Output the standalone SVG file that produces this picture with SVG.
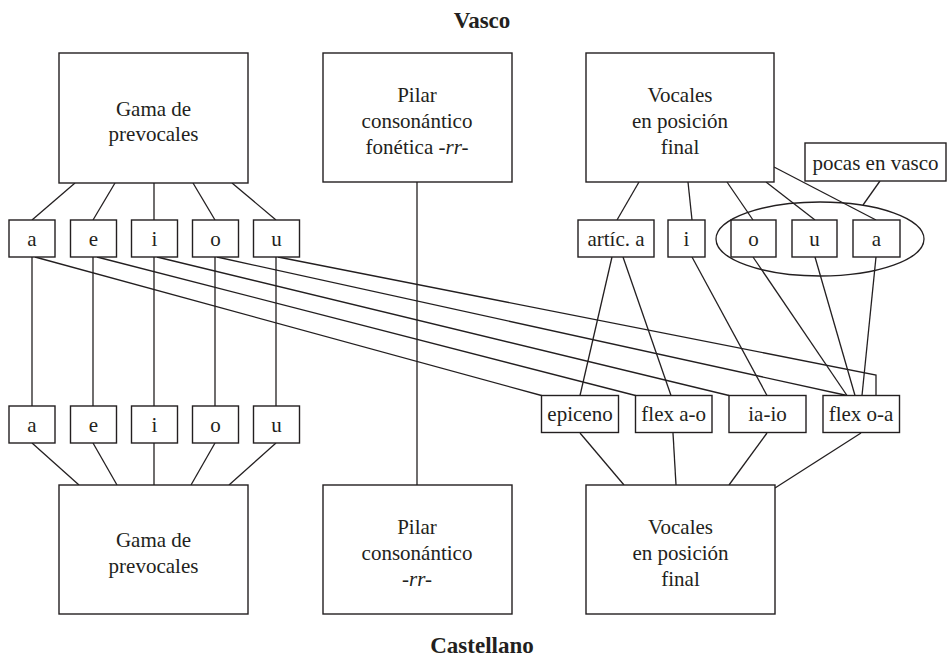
<svg xmlns="http://www.w3.org/2000/svg" width="949" height="659" viewBox="0 0 949 659">
<style>
.box{fill:#fff;stroke:#231f20;stroke-width:1.4}
.ln{fill:none;stroke:#231f20;stroke-width:1.3}
text{font-family:"Liberation Serif","Times New Roman",serif;font-size:21px;fill:#231f20;text-anchor:middle}
.hd{font-weight:bold;font-size:23px}
.it{font-style:italic}
</style>
<rect width="949" height="659" fill="#fff"/>
<g id="connectors" class="ln">
<line x1="75" y1="183" x2="32" y2="220"/>
<line x1="115" y1="183" x2="93" y2="220"/>
<line x1="154" y1="183" x2="154" y2="220"/>
<line x1="193" y1="183" x2="215" y2="220"/>
<line x1="232" y1="183" x2="276" y2="220"/>
<line x1="32" y1="257" x2="32" y2="406"/>
<line x1="93" y1="257" x2="93" y2="406"/>
<line x1="154" y1="257" x2="154" y2="406"/>
<line x1="215" y1="257" x2="215" y2="406"/>
<line x1="276" y1="257" x2="276" y2="406"/>
<line x1="32" y1="443" x2="79" y2="485"/>
<line x1="93" y1="443" x2="117" y2="485"/>
<line x1="154" y1="443" x2="154" y2="485"/>
<line x1="215" y1="443" x2="191" y2="485"/>
<line x1="276" y1="443" x2="229" y2="485"/>
<line x1="417" y1="182" x2="417" y2="485"/>
<line x1="639" y1="182" x2="617" y2="220"/>
<line x1="688" y1="182" x2="692" y2="220"/>
<line x1="727" y1="182" x2="753" y2="220"/>
<line x1="766" y1="182" x2="815" y2="220"/>
<line x1="774" y1="167" x2="876" y2="220"/>
<line x1="880" y1="181" x2="863" y2="205"/>
<line x1="35" y1="257" x2="541.5" y2="395.5"/>
<line x1="97" y1="257" x2="635.5" y2="395.5"/>
<line x1="157" y1="257" x2="729" y2="395.5"/>
<line x1="217" y1="257" x2="847" y2="395.5"/>
<polyline points="278,257 876,375 876,395.5"/>
<line x1="612" y1="257" x2="580" y2="395.5"/>
<line x1="623" y1="257" x2="671" y2="395.5"/>
<line x1="692" y1="257" x2="767" y2="395.5"/>
<line x1="753" y1="257" x2="847" y2="395.5"/>
<line x1="815" y1="257" x2="855" y2="395.5"/>
<line x1="876" y1="257" x2="862" y2="395.5"/>
<line x1="580" y1="433" x2="624" y2="485"/>
<line x1="673" y1="433" x2="676" y2="485"/>
<line x1="767" y1="433" x2="729" y2="485"/>
<line x1="861" y1="433" x2="775" y2="488"/>
</g>
<text class="hd" x="482" y="28">Vasco</text>
<text class="hd" x="482" y="653">Castellano</text>
<g id="v-gama"><rect class="box" x="59" y="53" width="189" height="130"/><text x="153.5" y="115.5">Gama de</text><text x="153.5" y="141">prevocales</text></g>
<g id="v-pilar"><rect class="box" x="323" y="53" width="189" height="129"/><text x="417" y="101.5">Pilar</text><text x="417" y="128">consonántico</text><text x="417" y="154">fonética <tspan class="it">-rr-</tspan></text></g>
<g id="v-vocales"><rect class="box" x="586" y="53" width="188" height="129"/><text x="680" y="101.5">Vocales</text><text x="680" y="128">en posición</text><text x="680" y="154">final</text></g>
<g id="pocas"><rect class="box" x="805" y="143" width="141" height="38"/><text x="875.5" y="170">pocas en vasco</text></g>
<g id="v-a"><rect class="box" x="9" y="220" width="46" height="37"/><text x="32" y="245.5">a</text></g>
<g id="v-e"><rect class="box" x="70.5" y="220" width="46" height="37"/><text x="93.5" y="245.5">e</text></g>
<g id="v-i"><rect class="box" x="131.5" y="220" width="46" height="37"/><text x="154.5" y="245.5">i</text></g>
<g id="v-o"><rect class="box" x="192.5" y="220" width="46" height="37"/><text x="215.5" y="245.5">o</text></g>
<g id="v-u"><rect class="box" x="253.5" y="220" width="46" height="37"/><text x="276.5" y="245.5">u</text></g>
<g id="c-a"><rect class="box" x="9" y="406" width="46" height="37"/><text x="32" y="431.5">a</text></g>
<g id="c-e"><rect class="box" x="70.5" y="406" width="46" height="37"/><text x="93.5" y="431.5">e</text></g>
<g id="c-i"><rect class="box" x="131.5" y="406" width="46" height="37"/><text x="154.5" y="431.5">i</text></g>
<g id="c-o"><rect class="box" x="192.5" y="406" width="46" height="37"/><text x="215.5" y="431.5">o</text></g>
<g id="c-u"><rect class="box" x="253.5" y="406" width="46" height="37"/><text x="276.5" y="431.5">u</text></g>
<g id="v-artic"><rect class="box" x="578" y="220" width="76" height="37"/><text x="616" y="245.5">artíc. a</text></g>
<g id="v-fi"><rect class="box" x="668" y="220" width="37" height="37"/><text x="686.5" y="245.5">i</text></g>
<g id="v-fo"><rect class="box" x="731" y="220" width="45" height="37"/><text x="753.5" y="245.5">o</text></g>
<g id="v-fu"><rect class="box" x="792" y="220" width="45" height="37"/><text x="814.5" y="245.5">u</text></g>
<g id="v-fa"><rect class="box" x="853" y="220" width="47" height="37"/><text x="876.5" y="245.5">a</text></g>
<ellipse id="grupo" class="ln" cx="820" cy="239" rx="104" ry="37"/>
<g id="c-epiceno"><rect class="box" x="541.5" y="395.5" width="77" height="37"/><text x="580" y="421">epiceno</text></g>
<g id="c-flexao"><rect class="box" x="635.5" y="395.5" width="76.5" height="37"/><text x="673.7" y="421">flex a-o</text></g>
<g id="c-iaio"><rect class="box" x="729" y="395.5" width="77" height="37"/><text x="767.5" y="421">ia-io</text></g>
<g id="c-flexoa"><rect class="box" x="823" y="395.5" width="76.5" height="37"/><text x="861" y="421">flex o-a</text></g>
<g id="c-gama"><rect class="box" x="59" y="485" width="189" height="129"/><text x="153.5" y="547">Gama de</text><text x="153.5" y="572.5">prevocales</text></g>
<g id="c-pilar"><rect class="box" x="323" y="485" width="189" height="129"/><text x="417" y="533.5">Pilar</text><text x="417" y="560">consonántico</text><text x="417" y="586" class="it">-rr-</text></g>
<g id="c-vocales"><rect class="box" x="586" y="485" width="189" height="129"/><text x="680.5" y="533.5">Vocales</text><text x="680.5" y="560">en posición</text><text x="680.5" y="586">final</text></g>
</svg>
